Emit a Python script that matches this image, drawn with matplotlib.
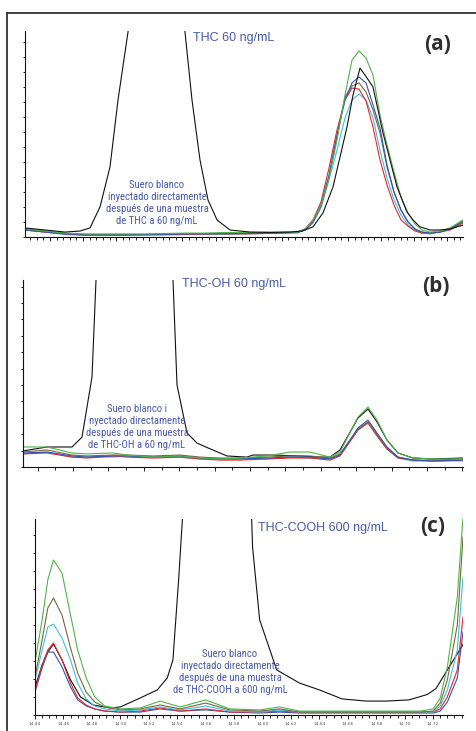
import matplotlib.pyplot as plt
from matplotlib import font_manager
from matplotlib.lines import Line2D
from matplotlib.ticker import MultipleLocator, NullFormatter

# ---- panel (a): THC 60 ng/mL (scan units, no time labels) ----
scan_a = [0, 20, 40, 60, 80, 100, 120, 140, 160, 180, 200, 220, 240, 260,
          272, 280, 288, 296, 304, 312, 320, 327, 334, 341, 348, 355, 362,
          369, 376, 383, 390, 397, 405, 415, 425, 438]
green_a = [3.9, 2.9, 1.9, 1.5, 1.5, 1.5, 1.5, 1.7, 1.9, 1.9, 2.2, 2.2, 2.4, 2.4,
           2.4, 3.9, 7.8, 15.5, 28.6, 47.1, 68.9, 85.9, 90.3, 86.9, 78.6, 59.2,
           44.7, 31.6, 19.4, 11.7, 6.3, 3.4, 2.4, 2.9, 4.4, 8.3]
olive_a = [3.9, 2.9, 1.7, 1.2, 1.2, 1.2, 1.2, 1.5, 1.5, 1.7, 1.7, 1.9, 1.9, 2.2,
           2.2, 3.4, 7.3, 15.0, 29.1, 48.5, 68.0, 73.3, 74.8, 70.4, 61.7, 50.5,
           34.0, 21.8, 13.1, 7.3, 3.9, 2.4, 1.9, 2.4, 3.9, 7.3]
blue_a = [3.4, 2.4, 1.5, 1.0, 1.0, 1.0, 1.2, 1.2, 1.5, 1.5, 1.5, 1.7, 1.9, 2.2,
          2.2, 3.4, 7.3, 15.5, 30.1, 49.5, 66.5, 74.8, 77.7, 74.8, 64.1, 52.9,
          35.0, 21.8, 13.1, 7.3, 3.9, 2.4, 1.9, 2.4, 3.9, 7.8]
red_a = [3.4, 2.4, 1.5, 1.0, 1.0, 1.0, 1.0, 1.2, 1.2, 1.5, 1.5, 1.5, 1.7, 1.9,
         2.2, 3.9, 8.3, 17.0, 33.5, 51.9, 66.5, 72.3, 71.8, 66.0, 53.4, 37.4,
         25.2, 15.5, 8.3, 5.3, 2.9, 1.9, 1.9, 2.4, 3.4, 6.8]
cyan_a = [3.4, 2.4, 1.2, 0.8, 0.8, 0.8, 1.0, 1.0, 1.2, 1.2, 1.5, 1.5, 1.7, 1.9,
          1.9, 3.4, 6.8, 14.1, 27.7, 42.2, 57.8, 66.5, 69.4, 66.5, 57.8, 42.2,
          28.6, 18.0, 10.7, 5.8, 3.4, 1.9, 1.5, 2.4, 3.9, 7.8]
scan_black_a = [0, 20, 40, 55, 65, 75, 85, 93, 103, 115, 131, 147, 160, 167,
                175, 183, 192, 205, 225, 245, 265, 277, 288, 298, 308, 315, 322,
                328, 335, 342, 348, 358, 365, 372, 382, 388, 395, 405, 415, 425,
                438]
black_a = [4.4, 3.4, 2.4, 2.9, 4.4, 14.6, 34.0, 66.5, 99.5, 150, 200, 150, 99.5,
           66.5, 37.4, 18.0, 8.3, 3.4, 2.4, 2.2, 2.4, 2.9, 4.9, 11.7, 24.3, 38.8,
           53.4, 68.9, 82.0, 77.2, 72.8, 50.5, 37.4, 24.3, 12.1, 8.3, 4.9, 3.4,
           3.4, 3.9, 5.8]

# ---- panel (b): THC-OH 60 ng/mL ----
scan_b = [0, 24, 49, 64, 90, 104, 130, 157, 177, 197, 217, 244, 267, 287, 307,
          317, 335, 345, 354, 364, 375, 390, 410, 440]
green_b = [10.7, 10.7, 7.5, 7.0, 7.5, 6.4, 5.3, 5.9, 4.8, 4.3, 4.8, 5.9, 8.0,
           8.0, 5.3, 8.0, 26.7, 32.1, 25.1, 14.4, 7.5, 4.8, 4.3, 4.3]
olive_b = [8.0, 9.1, 6.4, 5.9, 6.4, 6.4, 5.9, 6.4, 5.3, 4.8, 4.8, 5.3, 5.9, 5.9,
           4.8, 7.0, 20.3, 24.1, 17.6, 10.2, 5.3, 3.7, 3.7, 4.3]
blue_b = [7.5, 8.0, 5.9, 5.3, 5.9, 5.9, 5.3, 5.9, 4.8, 4.3, 4.3, 4.8, 5.3, 5.3,
          4.3, 6.4, 20.9, 25.1, 18.2, 10.7, 5.3, 3.7, 3.2, 3.7]
red_b = [7.0, 7.5, 5.3, 4.8, 5.9, 5.3, 4.8, 5.3, 4.3, 3.7, 3.7, 4.3, 4.8, 4.8,
         3.7, 5.9, 19.8, 23.5, 16.6, 9.6, 4.8, 3.7, 3.2, 3.7]
cyan_b = [7.0, 8.0, 5.3, 5.3, 5.3, 5.9, 5.3, 5.3, 4.3, 4.3, 4.3, 4.3, 5.3, 4.8,
          4.3, 6.4, 19.8, 24.1, 17.1, 9.6, 4.8, 3.2, 3.2, 3.2]
scan_black_b = [0, 24, 49, 59, 69, 87, 112, 137, 154, 164, 174, 185, 204, 224,
                230, 250, 277, 297, 307, 317, 335, 345, 354, 364, 375, 390, 410,
                440]
black_b = [8.6, 10.7, 10.7, 16.0, 48.1, 281, 450, 282, 43.9, 18.2, 12.8, 10.2,
           5.9, 5.3, 6.4, 6.4, 5.9, 5.3, 5.3, 9.1, 26.2, 31.0, 24.1, 14.4, 7.5,
           4.8, 4.3, 4.8]

# ---- panel (c): THC-COOH 600 ng/mL (retention time, min) ----
time_c = [14.440, 14.445, 14.449, 14.453, 14.459, 14.465, 14.470, 14.476,
          14.482, 14.489, 14.500, 14.514, 14.528, 14.542, 14.560, 14.577,
          14.598, 14.612, 14.626, 14.654, 14.683, 14.711, 14.720, 14.725,
          14.730, 14.737, 14.741]
green_c = [27.0, 48.5, 68.9, 79.1, 72.4, 51.0, 33.2, 18.9, 9.2, 4.6, 3.1, 3.6,
           7.1, 4.1, 7.7, 3.1, 2.6, 4.1, 2.0, 2.0, 2.0, 2.0, 3.1, 8.7, 24.5, 60.2,
           101.0]
olive_c = [19.4, 38.3, 54.6, 59.7, 51.0, 34.2, 21.4, 11.7, 6.6, 4.1, 2.6, 3.1,
           5.1, 3.1, 6.1, 2.6, 2.0, 3.1, 1.5, 1.5, 1.5, 1.5, 2.0, 6.1, 17.9, 45.9,
           90.8]
cyan_c = [17.9, 33.2, 44.9, 46.4, 39.3, 28.1, 16.3, 8.2, 4.6, 3.1, 2.0, 2.6, 4.1,
          2.6, 4.6, 2.0, 1.5, 2.6, 1.5, 1.5, 1.5, 1.5, 1.5, 4.6, 12.8, 33.2, 70.4]
red_c = [12.8, 25.5, 33.2, 36.7, 28.1, 16.3, 8.7, 5.1, 3.1, 2.0, 1.5, 2.0, 3.6,
         2.0, 3.1, 1.5, 1.5, 2.0, 1.5, 1.5, 1.5, 1.5, 1.5, 3.1, 9.2, 23.0, 50.0]
blue_c = [11.7, 24.0, 32.1, 32.1, 24.5, 14.3, 7.7, 4.6, 3.1, 2.0, 1.5, 1.5, 3.1,
          2.0, 2.6, 1.5, 1.0, 1.5, 1.0, 1.0, 1.0, 1.0, 1.0, 2.0, 6.6, 18.9, 42.3]
time_black_c = [14.440, 14.445, 14.449, 14.453, 14.459, 14.465, 14.472, 14.481,
                14.493, 14.500, 14.514, 14.526, 14.533, 14.537, 14.541, 14.549,
                14.568, 14.588, 14.593, 14.598, 14.610, 14.626, 14.640, 14.656,
                14.673, 14.687, 14.703, 14.710, 14.716, 14.722, 14.741]
black_c = [14.3, 25.5, 32.1, 36.2, 28.1, 17.9, 9.2, 5.1, 3.6, 4.1, 8.7, 12.8,
           18.9, 28.1, 68.9, 162, 600, 200, 85.7, 48.5, 23.0, 16.3, 12.8, 8.2,
           7.1, 7.1, 7.7, 9.2, 10.5, 13.5, 36.0]
time_ticks_c = ['14.44', '14.46', '14.48', '14.50', '14.52', '14.54', '14.56',
                '14.58', '14.60', '14.62', '14.64', '14.66', '14.68', '14.70',
                '14.72']

COLORS = {
    'green': '#4fb44a',
    'olive': '#76683a',
    'cyan': '#3fbfe6',
    'blue': '#3654b0',
    'red': '#e5262a',
    'black': '#111111',
}
TEXT_BLUE = '#4a5aa8'


def pick_note_font():
    """Use a narrow sans for the notes if one is installed, else shrink Liberation Sans."""
    installed = {f.name for f in font_manager.fontManager.ttflist}
    for name in ('Liberation Sans Narrow', 'Arial Narrow', 'Roboto Condensed',
                 'Open Sans Condensed', 'DejaVu Sans Condensed'):
        if name in installed:
            return dict(family=name, fontsize=7.7, linespacing=1.25)
    return dict(family='Liberation Sans', fontsize=6.5, linespacing=1.5)


def draw_traces(ax, x, traces, x_black, y_black, black_first=True):
    """Plot the coloured replicate traces and the black blank trace."""
    if black_first:
        ax.plot(x_black, y_black, color=COLORS['black'], lw=0.8)
    for name, y in traces:
        ax.plot(x, y, color=COLORS[name], lw=0.8)
    if not black_first:
        ax.plot(x_black, y_black, color=COLORS['black'], lw=0.8)


def style_axis(ax, xlim, ylim, y_step):
    """Chromatogram look: only left/bottom spines, tiny outward ticks."""
    ax.set_xlim(*xlim)
    ax.set_ylim(*ylim)
    for side in ('top', 'right'):
        ax.spines[side].set_visible(False)
    for side in ('left', 'bottom'):
        ax.spines[side].set_linewidth(0.8)
        ax.spines[side].set_color('#111111')
    ax.yaxis.set_major_locator(MultipleLocator(y_step))
    ax.yaxis.set_major_formatter(NullFormatter())
    ax.tick_params(axis='y', which='both', length=1.8, width=0.6, direction='out')
    ax.tick_params(axis='x', which='major', length=3.0, width=0.6, direction='out')
    ax.tick_params(axis='x', which='minor', length=1.8, width=0.6, direction='out')


note_style = pick_note_font()

fig = plt.figure(figsize=(4.76, 7.31), dpi=100)

# frame lines (top and left only)
fig.add_artist(Line2D([7 / 476, 1.0], [1 - 13 / 731] * 2, color='#333333', lw=1.3))
fig.add_artist(Line2D([7 / 476] * 2, [0.0, 1 - 13 / 731], color='#333333', lw=1.3))

# panel (a)
ax_a = fig.add_axes([25 / 476, 1 - 237 / 731, 438 / 476, 206 / 731])
draw_traces(ax_a, scan_a,
            [('cyan', cyan_a), ('red', red_a), ('olive', olive_a),
             ('blue', blue_a), ('green', green_a)],
            scan_black_a, black_a, black_first=False)
style_axis(ax_a, (0, 438), (0, 100), 7.28)
ax_a.xaxis.set_major_locator(MultipleLocator(33.1, offset=25))
ax_a.xaxis.set_minor_locator(MultipleLocator(6.62, offset=5.14))
ax_a.xaxis.set_major_formatter(NullFormatter())

# panel (b)
ax_b = fig.add_axes([23 / 476, 1 - 467 / 731, 440 / 476, 187 / 731])
draw_traces(ax_b, scan_b,
            [('cyan', cyan_b), ('red', red_b), ('olive', olive_b),
             ('blue', blue_b), ('green', green_b)],
            scan_black_b, black_b, black_first=True)
style_axis(ax_b, (0, 440), (0, 100), 8.77)
ax_b.xaxis.set_major_locator(MultipleLocator(35.4, offset=50))
ax_b.xaxis.set_minor_locator(MultipleLocator(17.7, offset=14.6))
ax_b.xaxis.set_major_formatter(NullFormatter())

# panel (c)
ax_c = fig.add_axes([35 / 476, 1 - 715 / 731, 428 / 476, 196 / 731])
draw_traces(ax_c, time_c,
            [('blue', blue_c), ('red', red_c), ('cyan', cyan_c),
             ('olive', olive_c), ('green', green_c)],
            time_black_c, black_c, black_first=True)
style_axis(ax_c, (14.44, 14.741), (0, 100), 9.18)
ax_c.set_xticks([float(t) for t in time_ticks_c])
ax_c.set_xticklabels(time_ticks_c)
ax_c.xaxis.set_minor_locator(MultipleLocator(0.005))
ax_c.tick_params(axis='x', which='major', labelsize=3.2, labelcolor='#555555', pad=2)

# compound titles
fig.text(193 / 476, 1 - 38 / 731, 'THC 60 ng/mL', color=TEXT_BLUE, fontsize=9,
         family='Liberation Sans', va='center', ha='left')
fig.text(182 / 476, 1 - 284 / 731, 'THC-OH 60 ng/mL', color=TEXT_BLUE, fontsize=9,
         family='Liberation Sans', va='center', ha='left')
fig.text(258 / 476, 1 - 528 / 731, 'THC-COOH 600 ng/mL', color=TEXT_BLUE,
         fontsize=9, family='Liberation Sans', va='center', ha='left')

# blank-injection notes
fig.text(157 / 476, 1 - 203 / 731,
         'Suero blanco\ninyectado directamente\ndespués de una muestra\nde THC a 60 ng/mL',
         color=TEXT_BLUE, ha='center', va='center', **note_style)
fig.text(137 / 476, 1 - 427 / 731,
         'Suero blanco i\nnyectado directamente\ndespués de una muestra\nde THC-OH a 60 ng/mL',
         color=TEXT_BLUE, ha='center', va='center', **note_style)
fig.text(230 / 476, 1 - 672 / 731,
         'Suero blanco\ninyectado directamente\ndespués de una muestra\nde THC-COOH a 600 ng/mL',
         color=TEXT_BLUE, ha='center', va='center', **note_style)

# panel letters
for label, xp, yp in (('(a)', 438, 45), ('(b)', 436, 287), ('(c)', 433, 527)):
    fig.text(xp / 476, 1 - yp / 731, label, color='#2e2e2e', fontsize=15,
             fontweight='bold', family=['Open Sans', 'DejaVu Sans'],
             ha='center', va='center')

plt.savefig('out.png', dpi=100)
plt.close(fig)
